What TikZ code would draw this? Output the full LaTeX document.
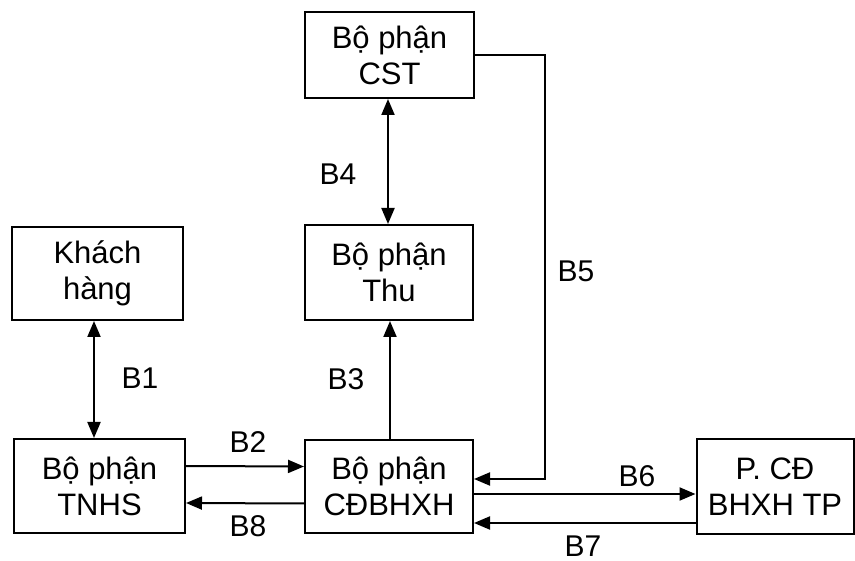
\documentclass[tikz,border=0pt]{standalone}
\usepackage{fontspec}
\setmainfont{Liberation Sans}
\usetikzlibrary{arrows.meta,calc}
\tikzset{
  box/.style={draw, line width=2pt, align=center, inner sep=0pt,
    font=\fontsize{31}{36}\selectfont},
  arr/.style={line width=2pt, -{Triangle[length=16pt,width=13pt]}},
  barr/.style={line width=2pt, {Triangle[length=16pt,width=13pt]}-{Triangle[length=16pt,width=13pt]}},
  lab/.style={font=\fontsize{30}{34}\selectfont, inner sep=0pt}
}
\begin{document}
\begin{tikzpicture}[x=1pt,y=-1pt]
\useasboundingbox (0,0) rectangle (855,561);
\node[box, minimum width=169pt, minimum height=86pt] (cst) at (389.5,55) {Bộ phận\\CST};
\node[box, minimum width=168pt, minimum height=95pt] (thu) at (389,272.5) {Bộ phận\\Thu};
\node[box, minimum width=171pt, minimum height=93pt] (kh) at (97.5,273.5) {Khách\\hàng};
\node[box, minimum width=171pt, minimum height=94pt] (tnhs) at (99.5,486) {Bộ phận\\TNHS};
\node[box, minimum width=168pt, minimum height=93pt] (cd) at (389,486.5) {Bộ phận\\CĐBHXH};
\node[box, minimum width=157pt, minimum height=95pt] (pcd) at (775,486.5) {P. CĐ\\BHXH TP};

% B1
\draw[barr] (kh.south -| 94,0) -- (tnhs.north -| 94,0);
% B4
\draw[barr] (cst.south -| 388,0) -- (thu.north -| 388,0);
% B3
\draw[arr] (cd.north -| 390,0) -- (thu.south -| 390,0);
% B2, B8
\draw[arr] ($(tnhs.east)+(0,-20)$) -- ($(cd.west)+(0,-20)$);
\draw[arr] ($(cd.west)+(0,17)$) -- ($(tnhs.east)+(0,17)$);
% B5
\coordinate (b5c) at (545,479);
\draw[arr] (cst.east) -| (b5c) -- (b5c -| cd.east);
% B6, B7
\draw[arr] ($(cd.east)+(0,7.5)$) -- ($(pcd.west)+(0,7.5)$);
\draw[arr] ($(pcd.west)+(0,36.5)$) -- ($(cd.east)+(0,36.5)$);

\node[lab] (l1) at (140,378) {B1};
\node[lab] (l2) at (248,442) {B2};
\node[lab] (l3) at (346,379) {B3};
\node[lab] (l4) at (338,174) {B4};
\node[lab] (l5) at (576,271) {B5};
\node[lab] (l6) at (637,476) {B6};
\node[lab] (l7) at (583,546) {B7};
\node[lab] (l8) at (248,526) {B8};
\end{tikzpicture}
\end{document}
